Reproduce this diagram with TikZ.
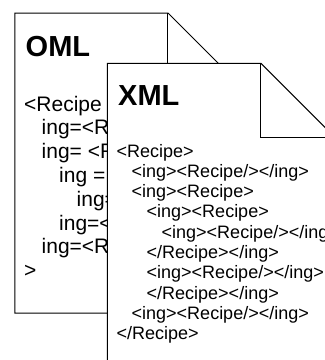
\documentclass[tikz,border=0pt]{standalone}
\usepackage{fontspec}
\setmainfont{Liberation Sans}
\begin{document}
\begin{tikzpicture}[x=1pt,y=-1pt,
  sheet/.style={draw=black,line width=1pt,fill=white,line join=miter},
  fold/.style={draw=black,line width=1pt},
  title/.style={font=\fontsize{29}{33}\selectfont\bfseries,anchor=base west,inner sep=0pt},
  omlcode/.style={font=\fontsize{21}{24}\selectfont,anchor=base west,inner sep=0pt},
  xmlcode/.style={font=\fontsize{18}{20}\selectfont,anchor=base west,inner sep=0pt}]
\useasboundingbox[fill=white] (0,0) rectangle (325,360);
\clip (0,0) rectangle (325,360);

% OML page with folded corner
\path[sheet] (15,13) -- (168,13) -- (242,87) -- (242,313) -- (15,313) -- cycle;
\path[fold] (168,13) -- (168,87) -- (242,87);
\node[title] (omltitle) at (25.5,56.5) {OML};
\node[omlcode] (o1) at (24,111)     {<Recipe};
\node[omlcode] (o2) at (41.5,134.8) {ing=<R};
\node[omlcode] (o3) at (41.5,158.6) {ing= <R};
\node[omlcode] (o4) at (59,182.4)   {ing =};
\node[omlcode] (o5) at (76.5,206.2) {ing=};
\node[omlcode] (o6) at (59,230)     {ing=<};
\node[omlcode] (o7) at (41.5,253.8) {ing=<R};
\node[omlcode] (o8) at (24,277.6)   {>};

% XML page with folded corner, laid over the OML page
\path[sheet] (107.3,63.3) -- (261,63.3) -- (335,137.3) -- (335,380) -- (107.3,380) -- cycle;
\path[fold] (261,63.3) -- (261,137.3) -- (335,137.3);
\node[title] (xmltitle) at (118,105.7) {XML};
\node[xmlcode] (x1)  at (116.5,157)   {<Recipe>};
\node[xmlcode] (x2)  at (131.5,177.3) {<ing><Recipe/></ing>};
\node[xmlcode] (x3)  at (131.5,197.6) {<ing><Recipe>};
\node[xmlcode] (x4)  at (146.5,217.9) {<ing><Recipe>};
\node[xmlcode] (x5)  at (161.5,238.2) {<ing><Recipe/></ing>};
\node[xmlcode] (x6)  at (146.5,258.5) {</Recipe></ing>};
\node[xmlcode] (x7)  at (146.5,278.8) {<ing><Recipe/></ing>};
\node[xmlcode] (x8)  at (146.5,299.1) {</Recipe></ing>};
\node[xmlcode] (x9)  at (131.5,319.4) {<ing><Recipe/></ing>};
\node[xmlcode] (x10) at (116.5,339.7) {</Recipe>};
\end{tikzpicture}
\end{document}
